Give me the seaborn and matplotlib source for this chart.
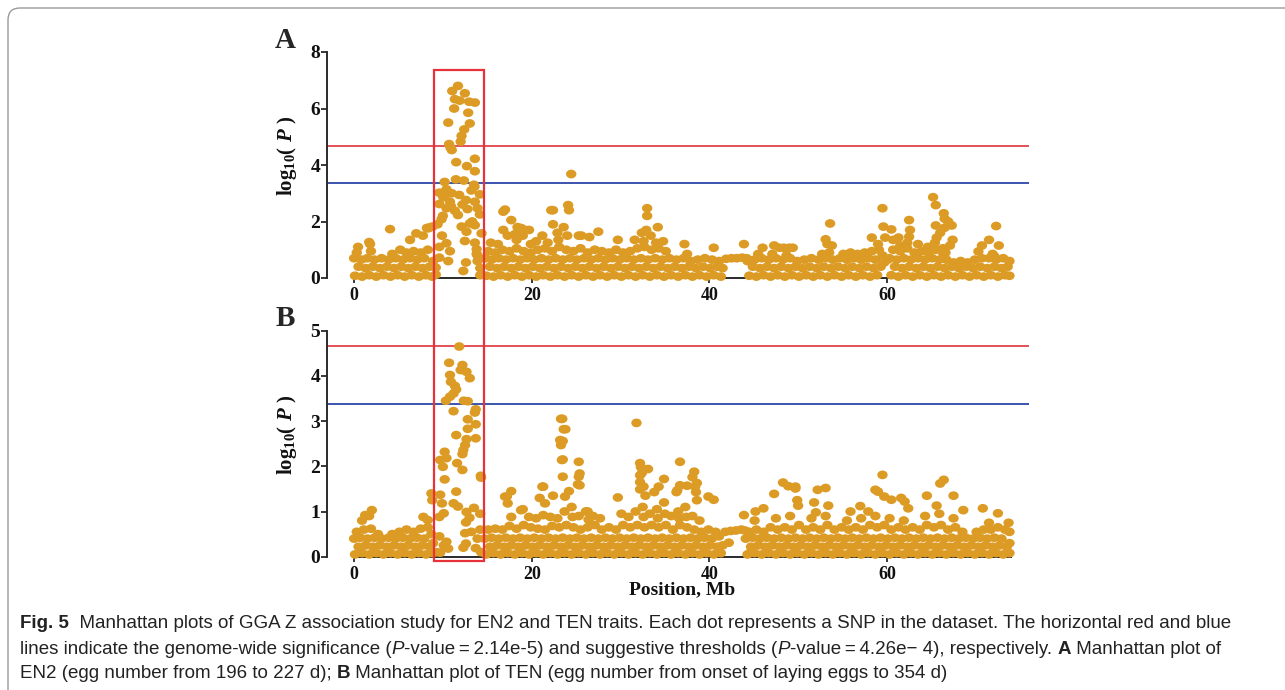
import matplotlib
matplotlib.use("Agg")
import matplotlib.pyplot as plt
import seaborn as sns
import pandas as pd
from matplotlib.patches import Rectangle, FancyBboxPatch
from matplotlib.transforms import blended_transform_factory, Affine2D
from matplotlib.path import Path
from matplotlib import font_manager

# ---------------- data (Mb, -log10 P) ----------------
a_band = [
    (0.1,0.08),(0.5,0.4),(0.0,0.7),(0.3,0.9),
    (0.9,0.05),(1.3,0.35),(0.8,0.65),
    (1.7,0.1),(2.1,0.4),(1.5,0.7),(1.9,0.95),
    (2.5,0.05),(2.9,0.35),(2.3,0.65),
    (3.3,0.1),(3.7,0.4),(3.1,0.7),
    (4.1,0.05),(4.5,0.35),(3.9,0.65),(4.3,0.85),
    (4.9,0.1),(5.3,0.4),(4.7,0.7),
    (5.7,0.05),(6.1,0.35),(5.5,0.65),(5.9,0.9),
    (6.5,0.1),(6.9,0.4),(6.3,0.7),(6.7,0.95),
    (7.3,0.05),(7.7,0.35),(7.1,0.65),(7.5,0.9),
    (8.1,0.1),(8.5,0.4),(7.9,0.7),(8.3,1.0),
    (8.8,0.05),(8.9,0.6),
    (14.9,0.08),(15.3,0.4),(14.8,0.7),(15.1,0.95),
    (15.7,0.05),(16.1,0.35),(15.5,0.65),(15.9,0.9),
    (16.5,0.1),(16.9,0.4),(16.3,0.7),(16.7,1.0),
    (17.3,0.05),(17.7,0.35),(17.1,0.65),(17.5,0.95),
    (18.1,0.1),(18.5,0.4),(17.9,0.7),(18.3,1.05),
    (18.9,0.05),(19.3,0.35),(18.7,0.65),(19.1,0.95),
    (19.7,0.1),(20.1,0.4),(19.5,0.7),(19.9,0.9),
    (20.5,0.05),(20.9,0.35),(20.3,0.65),(20.7,1.0),
    (21.3,0.1),(21.7,0.4),(21.1,0.7),(21.5,1.05),
    (22.1,0.05),(22.5,0.35),(21.9,0.65),(22.3,0.95),
    (22.9,0.1),(23.3,0.4),(22.7,0.7),(23.1,1.1),
    (23.7,0.05),(24.1,0.35),(23.5,0.65),(23.9,1.0),
    (24.5,0.1),(24.9,0.4),(24.3,0.7),(24.7,0.95),
    (25.3,0.05),(25.7,0.35),(25.1,0.65),(25.5,1.05),
    (26.1,0.1),(26.5,0.4),(25.9,0.7),(26.3,0.9),
    (26.9,0.05),(27.3,0.35),(26.7,0.65),(27.1,1.0),
    (27.7,0.1),(28.1,0.4),(27.5,0.7),(27.9,0.95),
    (28.5,0.05),(28.9,0.35),(28.3,0.65),(28.7,0.9),
    (29.3,0.1),(29.7,0.4),(29.1,0.7),(29.5,1.0),
    (30.1,0.05),(30.5,0.35),(29.9,0.65),(30.3,0.9),
    (30.9,0.1),(31.3,0.4),(30.7,0.7),(31.1,0.95),
    (31.7,0.05),(32.1,0.35),(31.5,0.65),(31.9,1.05),
    (32.5,0.1),(32.9,0.4),(32.3,0.7),(32.7,1.1),
    (33.3,0.05),(33.7,0.35),(33.1,0.65),(33.5,1.0),
    (34.1,0.1),(34.5,0.4),(33.9,0.7),(34.3,1.05),
    (34.9,0.05),(35.3,0.35),(34.7,0.65),(35.1,0.95),
    (35.7,0.1),(36.1,0.4),(35.5,0.7),
    (36.5,0.05),(36.9,0.35),(36.3,0.65),
    (37.3,0.1),(37.7,0.4),(37.1,0.7),(37.5,0.85),
    (38.1,0.05),(38.5,0.35),(37.9,0.6),
    (38.9,0.1),(39.3,0.4),(38.7,0.65),
    (39.7,0.05),(40.1,0.35),(39.5,0.7),
    (40.5,0.1),(40.9,0.4),(40.3,0.65),
    (41.3,0.05),(41.5,0.35),(41.1,0.6),
    (41.9,0.68),(42.5,0.7),(43.1,0.7),(43.7,0.72),(44.2,0.7),
    (44.5,0.08),(44.9,0.4),(44.3,0.6),
    (45.3,0.05),(45.7,0.35),(45.1,0.65),(45.5,0.85),
    (46.1,0.1),(46.5,0.4),(45.9,0.7),
    (46.9,0.05),(47.3,0.35),(46.7,0.65),(47.1,0.85),
    (47.7,0.1),(48.1,0.4),(47.5,0.7),
    (48.5,0.05),(48.9,0.35),(48.3,0.65),(48.7,0.8),
    (49.3,0.1),(49.7,0.4),(49.1,0.7),
    (50.1,0.05),(50.5,0.35),(49.9,0.6),
    (50.9,0.1),(51.3,0.4),(50.7,0.65),
    (51.7,0.05),(52.1,0.35),(51.5,0.7),
    (52.5,0.1),(52.9,0.4),(52.3,0.65),(52.7,0.85),
    (53.3,0.05),(53.7,0.35),(53.1,0.7),(53.5,0.9),
    (54.1,0.1),(54.5,0.4),(53.9,0.65),
    (54.9,0.05),(55.3,0.35),(54.7,0.7),(55.1,0.85),
    (55.7,0.1),(56.1,0.4),(55.5,0.65),(55.9,0.9),
    (56.5,0.05),(56.9,0.35),(56.3,0.7),(56.7,0.85),
    (57.3,0.1),(57.7,0.4),(57.1,0.65),(57.5,0.9),
    (58.1,0.05),(58.5,0.35),(57.9,0.7),(58.3,0.95),
    (58.9,0.1),(59.3,0.4),(58.7,0.65),(59.1,1.0),
    (59.7,0.55),(59.5,0.8),(60.1,0.65),
    (60.5,0.1),(60.9,0.4),(60.3,0.7),(60.7,1.0),
    (61.3,0.05),(61.7,0.35),(61.1,0.65),(61.5,0.95),
    (62.1,0.1),(62.5,0.4),(61.9,0.7),(62.3,1.05),
    (62.9,0.05),(63.3,0.35),(62.7,0.65),(63.1,0.9),
    (63.7,0.1),(64.1,0.4),(63.5,0.7),(63.9,0.95),
    (64.5,0.05),(64.9,0.35),(64.3,0.65),(64.7,0.9),
    (65.3,0.1),(65.7,0.4),(65.1,0.7),(65.5,1.0),
    (66.1,0.05),(66.5,0.35),(65.9,0.65),(66.3,0.9),
    (66.9,0.1),(67.3,0.4),(66.7,0.65),
    (67.7,0.05),(68.1,0.35),(67.5,0.55),
    (68.5,0.1),(68.9,0.4),(68.3,0.6),
    (69.3,0.05),(69.7,0.35),(69.1,0.55),
    (70.1,0.1),(70.5,0.4),(69.9,0.65),
    (70.9,0.05),(71.3,0.35),(70.7,0.7),
    (71.7,0.1),(72.1,0.4),(71.5,0.7),(71.9,0.85),
    (72.5,0.05),(72.9,0.35),(72.3,0.65),
    (73.3,0.1),(73.6,0.4),(73.1,0.7),
    (73.8,0.08),(73.8,0.6),
]
a_peak = [
    (11.7,6.80),(11.05,6.62),(12.47,6.54),(11.35,6.33),(11.9,6.28),(12.96,6.24),(13.6,6.21),
    (11.27,6.0),(12.85,5.85),(13.03,5.47),(10.6,5.50),(12.4,5.26),(12.1,5.03),(12.0,4.83),
    (10.7,4.74),(10.85,4.62),(11.0,4.53),(13.6,4.22),(11.5,4.1),(12.7,3.96),(13.6,3.78),
    (11.46,3.49),(12.36,3.45),(10.2,3.4),(13.56,3.23),(13.5,3.3),(10.4,3.14),(9.6,3.02),
    (11.84,2.94),(14.16,2.96),(10.04,2.86),(10.8,2.70),(12.6,2.76),(13.6,2.70),(9.6,2.62),
    (10.4,2.47),(11.35,2.38),(12.77,2.44),(13.9,2.47),(11.7,2.23),(14.16,2.25),(9.85,2.08),
    (13.03,1.93),(13.6,1.87),(12.1,1.82),(8.84,1.82),(8.35,1.76),(12.66,1.64),(14.35,1.58),
    (9.9,1.5),(12.47,1.31),(10.4,1.23),(13.6,1.25),(9.6,1.1),(13.8,1.02),(10.8,0.95),
    (13.9,0.8),(10.6,0.6),(12.6,0.55),(12.3,0.25),(9.6,0.72),(9.2,0.37),(9.2,0.12),
    (13.9,0.6),(14.2,0.35),(14.2,0.1),(13.8,0.85),(10.2,2.9),(10.9,2.55),(12.2,2.6),
    (11.0,3.0),(13.2,3.1),(9.4,1.9),(10.0,2.2),(13.3,2.0),
]
a_other = [
    (4.05,1.73),(1.7,1.27),(0.45,1.1),(1.8,1.2),(7.0,1.58),(8.2,1.77),(8.6,1.8),(5.2,1.0),
    (6.3,1.35),(7.75,1.5),
    (16.8,2.35),(17.0,2.42),(17.7,2.05),(16.8,1.7),(17.3,1.5),(18.4,1.8),(18.8,1.77),
    (19.3,1.7),(18.1,1.55),(19.7,1.7),(19.0,1.5),(18.3,1.35),(20.5,1.3),(21.2,1.5),
    (22.2,2.4),(22.4,2.4),(22.4,1.9),(22.9,1.6),(23.6,1.8),(24.1,2.58),(24.2,2.4),
    (24.45,3.68),(25.3,1.5),(25.6,1.5),(26.5,1.45),(27.5,1.64),(23.0,1.35),(24.0,1.5),
    (21.8,1.25),(19.9,1.2),(16.2,1.2),(15.4,1.25),
    (29.7,1.35),(31.6,1.35),(32.4,1.6),(32.9,1.7),(32.6,1.3),(33.0,2.47),(33.0,2.2),
    (33.4,1.5),(34.2,1.8),(34.0,1.25),(34.8,1.3),(37.2,1.2),(40.5,1.07),(43.9,1.2),
    (46.0,1.07),(47.3,1.15),(47.9,1.07),(48.4,1.07),(49.0,1.07),(49.4,1.07),
    (53.6,1.93),(53.1,1.37),(53.3,1.2),(53.8,1.15),
    (58.3,1.43),(59.0,1.2),(59.5,2.47),(59.6,1.82),(59.8,1.43),(60.5,1.72),(60.7,1.35),
    (61.3,1.43),(61.5,1.15),(62.5,2.05),(62.6,1.7),(62.5,1.46),(62.3,1.25),(63.5,1.2),
    (64.6,1.1),
    (65.2,2.86),(65.5,2.58),(66.4,2.29),(66.5,2.1),(66.9,2.0),(67.3,1.86),(65.5,1.86),
    (66.5,1.78),(66.0,1.6),(65.6,1.43),(67.4,1.35),(65.4,1.25),(67.1,1.15),(66.3,1.05),
    (66.6,0.9),
    (72.3,1.84),(71.5,1.35),(70.7,1.15),(72.6,1.15),(70.3,0.94),(72.1,0.77),
]

b_band = [
    (0.1,0.05),(0.5,0.22),(0.0,0.4),(0.3,0.55),
    (0.9,0.08),(1.3,0.25),(0.7,0.42),(1.1,0.6),(0.9,0.8),
    (1.7,0.05),(2.1,0.22),(1.5,0.4),(1.9,0.62),(1.7,0.9),(2.0,1.03),(1.25,0.92),
    (2.5,0.08),(2.9,0.25),(2.3,0.42),(2.7,0.5),
    (3.3,0.05),(3.7,0.22),(3.1,0.4),
    (4.1,0.08),(4.5,0.25),(3.9,0.42),(4.3,0.5),
    (4.9,0.05),(5.3,0.22),(4.7,0.4),(5.1,0.55),
    (5.7,0.08),(6.1,0.25),(5.5,0.42),(5.9,0.6),
    (6.5,0.05),(6.9,0.22),(6.3,0.4),(6.7,0.55),
    (7.3,0.08),(7.7,0.25),(7.1,0.42),(7.5,0.62),(7.8,0.88),
    (8.1,0.05),(8.5,0.22),(7.9,0.4),(8.3,0.65),(8.3,0.81),
    (8.8,0.08),(8.9,0.3),(8.7,0.5),
    (14.9,0.05),(15.3,0.22),(14.7,0.4),(15.1,0.6),
    (15.7,0.08),(16.1,0.25),(15.5,0.42),(15.9,0.62),
    (16.5,0.05),(16.9,0.22),(16.3,0.4),(16.7,0.6),
    (17.3,0.08),(17.7,0.25),(17.1,0.42),(17.5,0.68),
    (18.1,0.05),(18.5,0.22),(17.9,0.4),(18.3,0.62),
    (18.9,0.08),(19.3,0.25),(18.7,0.42),(19.1,0.7),
    (19.7,0.05),(20.1,0.22),(19.5,0.4),(19.9,0.65),(19.7,0.88),
    (20.5,0.08),(20.9,0.25),(20.3,0.42),(20.7,0.62),(20.5,0.85),
    (21.3,0.05),(21.7,0.22),(21.1,0.4),(21.5,0.6),(21.3,0.92),
    (22.1,0.08),(22.5,0.25),(21.9,0.42),(22.3,0.68),(22.1,0.88),
    (22.9,0.05),(23.3,0.22),(22.7,0.4),(23.1,0.65),(22.9,0.85),
    (23.7,0.08),(24.1,0.25),(23.5,0.42),(23.9,0.7),(23.7,1.0),
    (24.5,0.05),(24.9,0.22),(24.3,0.4),(24.7,0.65),(24.5,1.1),(24.6,0.88),
    (25.3,0.08),(25.7,0.25),(25.1,0.42),(25.5,0.6),(25.3,0.9),
    (26.1,0.05),(26.5,0.22),(25.9,0.4),(26.3,0.65),(26.1,1.0),(26.4,0.82),
    (26.9,0.08),(27.3,0.25),(26.7,0.42),(27.1,0.7),(26.9,0.9),
    (27.7,0.05),(28.1,0.22),(27.5,0.4),(27.9,0.6),(27.7,0.85),
    (28.5,0.08),(28.9,0.25),(28.3,0.42),(28.7,0.65),
    (29.3,0.05),(29.7,0.22),(29.1,0.4),(29.5,0.6),
    (30.1,0.08),(30.5,0.25),(29.9,0.42),(30.3,0.7),(30.1,0.95),
    (30.9,0.05),(31.3,0.22),(30.7,0.4),(31.1,0.65),(30.9,0.88),
    (31.7,0.08),(32.1,0.25),(31.5,0.42),(31.9,0.7),(31.7,1.0),
    (32.5,0.05),(32.9,0.22),(32.3,0.4),(32.7,0.65),(32.5,1.1),(32.6,0.88),
    (33.3,0.08),(33.7,0.25),(33.1,0.42),(33.5,0.7),(33.3,0.95),
    (34.1,0.05),(34.5,0.22),(33.9,0.4),(34.3,0.65),(34.1,1.05),(34.2,0.85),
    (34.9,0.08),(35.3,0.25),(34.7,0.42),(35.1,0.7),(34.9,1.2),(35.0,0.95),
    (35.7,0.05),(36.1,0.22),(35.5,0.4),(35.9,0.6),(35.7,0.9),
    (36.5,0.08),(36.9,0.25),(36.3,0.42),(36.7,0.7),(36.5,1.0),(36.6,0.85),
    (37.3,0.05),(37.7,0.22),(37.1,0.4),(37.5,0.65),(37.3,1.1),(37.4,0.88),
    (38.1,0.08),(38.5,0.25),(37.9,0.42),(38.3,0.6),(38.1,0.9),
    (38.9,0.05),(39.3,0.22),(38.7,0.4),(39.1,0.55),(38.9,0.8),
    (39.7,0.08),(40.1,0.25),(39.5,0.42),(39.9,0.6),
    (40.5,0.05),(40.9,0.22),(40.3,0.4),(40.7,0.55),
    (41.3,0.08),(41.5,0.25),(41.1,0.45),
    (41.8,0.55),(42.4,0.57),(43.0,0.58),(43.6,0.6),(44.0,0.58),(42.2,0.31),(44.7,0.11),
    (44.3,0.05),(44.7,0.22),(44.1,0.4),(44.5,0.55),
    (45.1,0.08),(45.5,0.25),(44.9,0.42),(45.3,0.6),(45.1,0.8),
    (45.9,0.05),(46.3,0.22),(45.7,0.4),(46.1,0.55),
    (46.7,0.08),(47.1,0.25),(46.5,0.42),(46.9,0.65),
    (47.5,0.05),(47.9,0.22),(47.3,0.4),(47.7,0.6),(47.5,0.85),
    (48.3,0.08),(48.7,0.25),(48.1,0.42),(48.5,0.65),
    (49.1,0.05),(49.5,0.22),(48.9,0.4),(49.3,0.6),(49.1,0.9),
    (49.9,0.08),(50.3,0.25),(49.7,0.42),(50.1,0.7),
    (50.7,0.05),(51.1,0.22),(50.5,0.4),(50.9,0.6),
    (51.5,0.08),(51.9,0.25),(51.3,0.42),(51.7,0.65),(51.5,0.85),
    (52.3,0.05),(52.7,0.22),(52.1,0.4),(52.5,0.6),
    (53.1,0.08),(53.5,0.25),(52.9,0.42),(53.3,0.7),(53.1,0.9),
    (53.9,0.05),(54.3,0.22),(53.7,0.4),(54.1,0.6),
    (54.7,0.08),(55.1,0.25),(54.5,0.42),(54.9,0.65),
    (55.5,0.05),(55.9,0.22),(55.3,0.4),(55.7,0.6),(55.5,0.8),
    (56.3,0.08),(56.7,0.25),(56.1,0.42),(56.5,0.65),
    (57.1,0.05),(57.5,0.22),(56.9,0.4),(57.3,0.6),(57.1,0.85),
    (57.9,0.08),(58.3,0.25),(57.7,0.42),(58.1,0.7),
    (58.7,0.05),(59.1,0.22),(58.5,0.4),(58.9,0.65),(58.7,0.9),
    (59.5,0.08),(59.9,0.25),(59.3,0.42),(59.7,0.7),
    (60.3,0.05),(60.7,0.22),(60.1,0.4),(60.5,0.6),(60.3,0.85),
    (61.1,0.08),(61.5,0.25),(60.9,0.42),(61.3,0.65),
    (61.9,0.05),(62.3,0.22),(61.7,0.4),(62.1,0.6),(61.9,0.8),
    (62.7,0.08),(63.1,0.25),(62.5,0.42),(62.9,0.65),
    (63.5,0.05),(63.9,0.22),(63.3,0.4),(63.7,0.6),
    (64.3,0.08),(64.7,0.25),(64.1,0.42),(64.5,0.7),(64.3,0.9),
    (65.1,0.05),(65.5,0.22),(64.9,0.4),(65.3,0.65),
    (65.9,0.08),(66.3,0.25),(65.7,0.42),(66.1,0.7),(65.9,0.95),
    (66.7,0.05),(67.1,0.22),(66.5,0.4),(66.9,0.6),
    (67.5,0.08),(67.9,0.25),(67.3,0.42),(67.7,0.65),(67.5,0.85),
    (68.3,0.05),(68.7,0.22),(68.1,0.4),(68.5,0.55),
    (69.1,0.08),(69.5,0.25),(68.9,0.42),
    (69.9,0.05),(70.3,0.22),(69.7,0.4),(70.1,0.55),
    (70.7,0.08),(71.1,0.25),(70.5,0.42),(70.9,0.6),
    (71.5,0.05),(71.9,0.22),(71.3,0.4),(71.7,0.6),(71.5,0.75),
    (72.3,0.08),(72.7,0.25),(72.1,0.42),(72.5,0.65),
    (73.1,0.05),(73.5,0.22),(72.9,0.4),(73.3,0.6),
    (73.8,0.08),(73.8,0.3),(73.8,0.55),(73.7,0.75),
]
b_peak = [
    (11.84,4.65),(10.7,4.29),(12.2,4.24),(12.66,4.09),(12.0,4.13),(10.8,4.02),(13.03,3.95),
    (10.9,3.87),(11.35,3.78),(11.5,3.70),(11.2,3.61),(10.8,3.54),(10.34,3.45),(12.36,3.45),
    (12.8,3.44),(13.7,3.26),(13.6,3.19),(11.2,3.22),(12.8,3.04),(13.7,2.93),(12.8,2.83),
    (11.5,2.69),(13.7,2.62),(12.66,2.60),(12.5,2.47),(12.3,2.36),(12.2,2.27),(10.2,2.32),
    (9.7,2.14),(10.4,2.18),(11.6,2.07),(10.0,1.99),(12.2,1.92),(10.2,1.71),(14.27,1.79),
    (14.3,1.75),(11.5,1.44),(8.7,1.40),(8.8,1.25),(9.7,1.37),(9.9,1.18),(11.2,1.18),
    (11.7,1.11),(10.1,0.96),(9.6,0.88),(12.66,0.99),(13.5,1.08),(13.0,0.86),(14.2,0.95),
    (12.6,0.76),(12.5,0.52),(10.4,0.33),(12.6,0.29),(12.3,0.2),(13.7,0.19),(10.6,0.18),
    (9.7,0.09),(9.3,0.1),(9.6,0.45),(10.1,0.25),(13.9,0.4),(14.2,0.6),(14.3,0.1),(13.2,0.55),
]
b_other = [
    (17.7,1.45),(17.0,1.33),(17.2,1.33),(17.3,1.18),(18.8,1.03),(17.7,0.88),(19.0,1.05),
    (21.3,1.55),(21.2,1.55),(20.9,1.3),(21.5,1.18),(22.4,1.35),
    (23.3,3.05),(23.45,3.05),(23.6,2.82),(23.8,2.82),(23.2,2.58),(23.3,2.47),(23.5,2.56),
    (23.4,2.14),(23.5,2.15),(23.5,1.77),(23.75,1.33),(24.2,1.45),
    (25.3,2.1),(25.4,1.84),(25.3,1.77),(25.2,1.6),(25.4,1.58),(26.3,1.0),
    (29.7,1.31),(31.8,2.96),(32.2,2.07),(32.3,1.98),(33.1,1.94),(32.4,1.85),(32.2,1.8),
    (32.2,1.65),(32.6,1.55),(32.2,1.49),(32.8,1.35),(33.8,1.43),(34.9,1.72),(34.3,1.55),
    (36.7,2.1),(38.3,1.88),(38.1,1.76),(38.6,1.63),(38.4,1.55),(38.5,1.43),(36.7,1.58),
    (37.5,1.57),(39.9,1.33),(38.6,1.25),(36.3,1.43),(40.5,1.26),(36.4,1.47),
    (43.9,0.92),(45.2,1.0),(46.1,1.07),(47.3,1.39),(48.3,1.64),(48.9,1.56),(49.7,1.55),
    (49.7,1.51),(52.2,1.48),(53.1,1.52),(49.9,1.25),(50.0,1.13),(51.8,1.2),(53.4,1.13),
    (52.0,0.98),(55.9,1.0),(57.0,1.12),(57.9,1.0),
    (59.5,1.81),(58.7,1.48),(59.0,1.44),(59.7,1.33),(60.5,1.26),(61.6,1.30),(62.0,1.22),
    (62.4,1.07),(66.4,1.70),(66.0,1.62),(64.5,1.35),(67.5,1.35),(65.6,1.13),(68.6,1.03),
    (70.8,1.07),(72.5,0.96),
]

thresholds = [4.67, 3.37]          # significance (red), suggestive (blue)
threshold_colors = ["#e0434b", "#2c47a8"]
box_region = (9.04, 14.64)          # Mb, highlighted region
a_yticks = [0, 2, 4, 6, 8]
b_yticks = [0, 1, 2, 3, 4, 5]
x_ticks = [0, 20, 40, 60]

caption_lines = [
    [("Fig. 5", "bold", "normal"),
     ("  Manhattan plots of GGA Z association study for EN2 and TEN traits. Each dot represents a SNP in the dataset. The horizontal red and blue", "normal", "normal")],
    [("lines indicate the genome-wide significance (", "normal", "normal"), ("P", "normal", "italic"),
     ("-value\u2009=\u20092.14e-5) and suggestive thresholds (", "normal", "normal"), ("P", "normal", "italic"),
     ("-value\u2009=\u20094.26e\u2212 4), respectively. ", "normal", "normal"), ("A", "bold", "normal"),
     (" Manhattan plot of", "normal", "normal")],
    [("EN2 (egg number from 196 to 227 d); ", "normal", "normal"), ("B", "bold", "normal"),
     (" Manhattan plot of TEN (egg number from onset of laying eggs to 354 d)", "normal", "normal")],
]

# ---------------- style ----------------
sns.set_theme(style="white")
plt.rcParams["font.family"] = ["Liberation Serif", "DejaVu Serif"]
plt.rcParams["mathtext.fontset"] = "custom"
plt.rcParams["mathtext.rm"] = "Liberation Serif:bold"
plt.rcParams["mathtext.it"] = "Liberation Serif:italic:bold"
plt.rcParams["mathtext.bf"] = "Liberation Serif:bold"

W, H = 1285, 690
DOT = "#dc9b24"
AX = "#2a2a2a"

# slightly flattened round marker, as in the reference
ellipse = Path.unit_circle().transformed(Affine2D().scale(1.0, 0.84))

fig = plt.figure(figsize=(W / 100, H / 100), dpi=100)

def to_df(*groups):
    pts = [p for g in groups for p in g]
    return pd.DataFrame(pts, columns=["pos", "logp"])

dfA = to_df(a_band, a_other, a_peak)
dfB = to_df(b_band, b_other, b_peak)

axA = fig.add_axes([327 / W, 1 - 278 / H, 702 / W, 226 / H])
axB = fig.add_axes([327 / W, 1 - 556.7 / H, 702 / W, 226 / H])

ylab = r"$\mathrm{log}_{\mathrm{10}}\mathrm{(}\ P\ \mathrm{)}$"

for ax, df, ymax, yt in [(axA, dfA, 8, a_yticks), (axB, dfB, 5, b_yticks)]:
    sns.scatterplot(data=df, x="pos", y="logp", ax=ax, color=DOT, s=56, marker=ellipse,
                    edgecolor="none", linewidth=0, zorder=3, clip_on=False)
    for thr, c in zip(thresholds, threshold_colors):
        ax.axhline(thr, color=c, lw=1.3, zorder=2)
    ax.set_xlim(-3.05, 76.0)
    ax.set_ylim(0, ymax)
    ax.set_yticks(yt)
    ax.set_xticks(x_ticks)
    for s in ["top", "right"]:
        ax.spines[s].set_visible(False)
    ax.spines["left"].set_color(AX)
    ax.spines["left"].set_linewidth(1.4)
    ax.spines["bottom"].set_color(AX)
    ax.spines["bottom"].set_linewidth(1.4)
    ax.spines["bottom"].set_bounds(0, 74)
    ax.tick_params(axis="y", direction="out", length=4, width=1.3, color=AX, pad=1,
                   labelsize=14)
    ax.tick_params(axis="x", direction="out", length=3.5, width=1.3, color=AX, pad=3,
                   labelsize=13)
    ax.tick_params(left=True, bottom=True)
    for lab in ax.get_xticklabels() + ax.get_yticklabels():
        lab.set_fontweight("bold")
        lab.set_color("#111111")
    ax.set_xlabel("")
    ax.set_ylabel(ylab, fontsize=15, color="#111111")
    ax.yaxis.set_label_coords(-0.04, 0.54)
    ax.set_facecolor("none")
    ax.grid(False)

# highlighted region box spanning both panels
trans = blended_transform_factory(axA.transData, fig.transFigure)
rect = Rectangle((box_region[0], 1 - 561 / H), box_region[1] - box_region[0], (561 - 70) / H,
                 transform=trans, fill=False, ec="#e8323a", lw=1.6, zorder=10, clip_on=False)
fig.add_artist(rect)

fig.text(285 / W, 1 - 40 / H, "A", fontsize=21, fontweight="bold", ha="center", va="center")
fig.text(285 / W, 1 - 318 / H, "B", fontsize=21, fontweight="bold", ha="center", va="center")
fig.text(682 / W, 1 - 590 / H, "Position, Mb", fontsize=14, fontweight="bold",
         ha="center", va="center", color="#111111")

# outer rounded frame
frame = FancyBboxPatch((0.08, -1.0), 14.0, 6.82 + 1.0,
                       boxstyle="round,pad=0,rounding_size=0.12",
                       transform=fig.dpi_scale_trans, fc="none", ec="#9a9a9a", lw=1.0,
                       clip_on=False)
fig.add_artist(frame)

# caption
avail = {f.name for f in font_manager.fontManager.ttflist}
cap_fam = "Liberation Sans Narrow" if "Liberation Sans Narrow" in avail else "Liberation Sans"
cap_family = [cap_fam, "DejaVu Sans"]
renderer = fig.canvas.get_renderer()

def line_width(runs, size):
    tot = 0
    for txt, wt, st in runs:
        t = fig.text(0, 0, txt, fontsize=size, fontweight=wt, fontstyle=st, family=cap_family)
        tot += t.get_window_extent(renderer=renderer).width
        t.remove()
    return tot

base = 12.0
wid = line_width(caption_lines[0], base)
cap_size = base * (1236 - 20) / wid

def draw_runs(y_px, runs, size, x_px=20):
    x = x_px
    for txt, wt, st in runs:
        t = fig.text(x / W, 1 - y_px / H, txt, fontsize=size, fontweight=wt, fontstyle=st,
                     family=cap_family, ha="left", va="center", color="#222222")
        x += t.get_window_extent(renderer=renderer).width

for y_px, runs in zip([624, 649, 674], caption_lines):
    draw_runs(y_px, runs, cap_size)

fig.savefig("out.png", dpi=100)
